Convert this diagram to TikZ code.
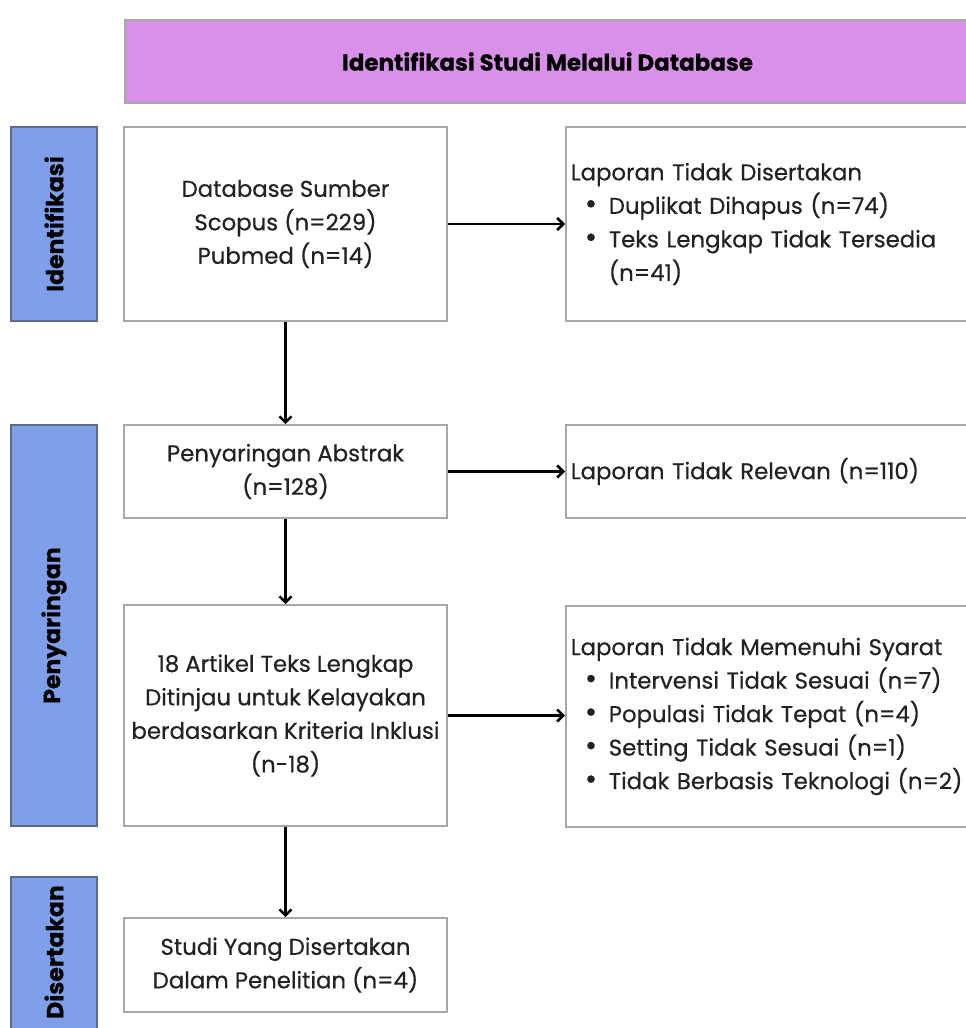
\documentclass[tikz,border=0pt]{standalone}
\usepackage{fontspec}
\setmainfont{Poppins}[FakeBold=0.5]
\usetikzlibrary{arrows.meta}
\definecolor{hdr}{HTML}{D890E8}
\definecolor{side}{HTML}{7F9FE8}
\definecolor{bord}{HTML}{A8A8A8}
\definecolor{sidebord}{HTML}{5A6A8A}
\definecolor{txt}{HTML}{222222}
\tikzset{
  mainbox/.style={draw=bord, line width=1.6pt, fill=white, minimum width=323pt, align=center, text=txt, inner sep=0pt, font=\fontsize{22.8}{33.5}\selectfont},
  sidebox/.style={draw=bord, line width=1.6pt, fill=white, text width=410pt, inner xsep=5pt, inner ysep=0pt, align=left, anchor=west, text=txt, font=\fontsize{22.8}{33.5}\selectfont},
  lbl/.style={draw=sidebord, line width=1.2pt, fill=side, minimum width=86pt, inner sep=0pt},
  lbltext/.style={rotate=90, font=\fontsize{23.5}{26}\selectfont\bfseries, text=black},
  arr/.style={line width=2.8pt, -{Straight Barb[length=6pt,width=12pt,line width=2.6pt]}},
}
\newcommand{\bitem}[1]{\makebox[38pt][l]{\hspace{14pt}{\fontsize{30}{30}\selectfont\textbullet}}#1}
\begin{document}
\begin{tikzpicture}[x=1pt,y=-1pt]
\useasboundingbox (0,0) rectangle (966,1028);
\clip (0,0) rectangle (966,1028);
% header
\node[draw=bord, line width=1.2pt, fill=hdr, minimum width=845pt, minimum height=83pt, inner sep=0pt, font=\fontsize{23}{26}\selectfont\bfseries] (hdr) at (547.5,61.5) {Identifikasi Studi Melalui Database};
% side labels
\node[lbl, minimum height=194pt] (l1) at (54,224) {};
\node[lbltext] (t1) at (l1.center) {Identifikasi};
\node[lbl, minimum height=401pt] (l2) at (54,625.5) {};
\node[lbltext] (t2) at (l2.center) {Penyaringan};
\node[lbl, minimum height=156pt] (l3) at (54,955) {};
\node[lbltext] (t3) at (54,952) {Disertakan};
% main boxes
\node[mainbox, minimum height=194pt] (b1) at (285.5,224) {Database Sumber\\Scopus (n=229)\\Pubmed (n=14)};
\node[mainbox, minimum height=93pt] (b2) at (285.5,471.5) {Penyaringan Abstrak\\(n=128)};
\node[mainbox, minimum height=221pt] (b3) at (285.5,715.5) {18 Artikel Teks Lengkap\\Ditinjau untuk Kelayakan\\berdasarkan Kriteria Inklusi\\(n-18)};
\node[mainbox, minimum height=94pt] (b4) at (285.5,965) {Studi Yang Disertakan\\Dalam Penelitian (n=4)};
% right boxes
\node[sidebox, minimum height=194pt] (r1) at (565,224) {Laporan Tidak Disertakan\\\bitem{Duplikat Dihapus (n=74)}\\\bitem{Teks Lengkap Tidak Tersedia}\\\hspace*{38pt}(n=41)};
\node[sidebox, minimum height=93pt] (r2) at (565,471.5) {Laporan Tidak Relevan (n=110)};
\node[sidebox, minimum height=221pt] (r3) at (565,716.5) {Laporan Tidak Memenuhi Syarat\\\bitem{Intervensi Tidak Sesuai (n=7)}\\\bitem{Populasi Tidak Tepat (n=4)}\\\bitem{Setting Tidak Sesuai (n=1)}\\\bitem{Tidak Berbasis Teknologi (n=2)}};
% arrows
\draw[arr] (b1.east) -- (r1.west);
\draw[arr] (b2.east) -- (r2.west);
\draw[arr] (b3.east) -- (r3.west |- b3.east);
\draw[arr] (b1.south) -- (b2.north);
\draw[arr] (b2.south) -- (b3.north);
\draw[arr] (b3.south) -- (b4.north);
\end{tikzpicture}
\end{document}
